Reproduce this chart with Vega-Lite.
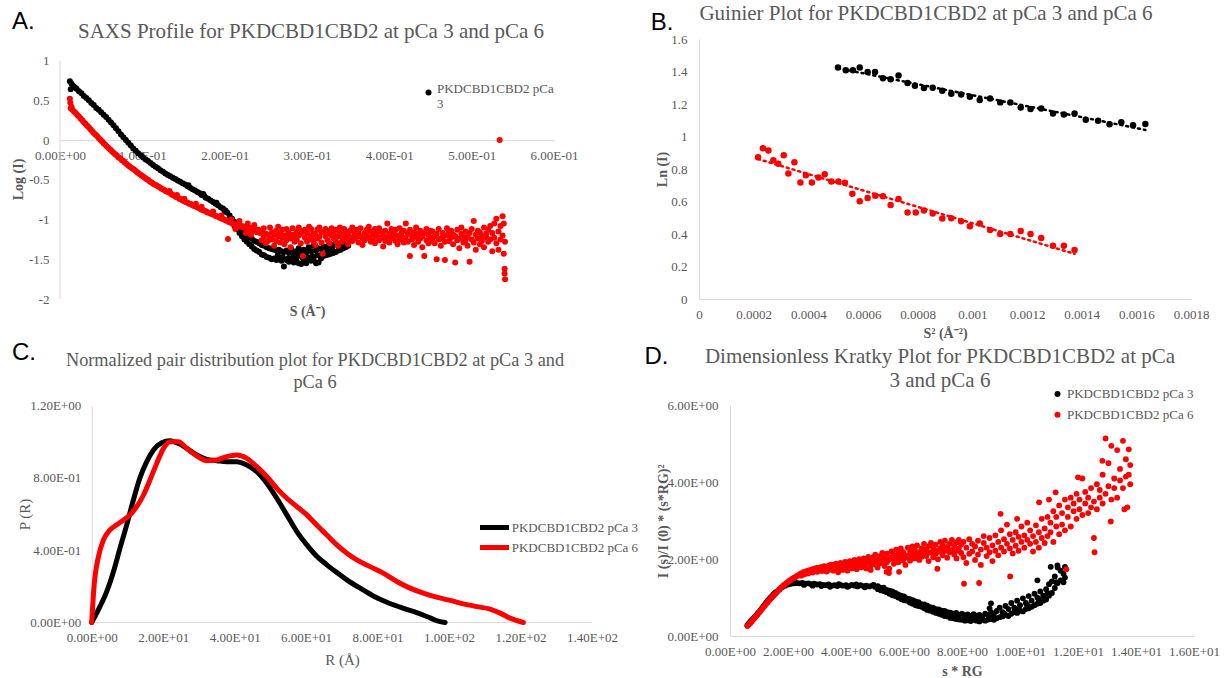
{
"$schema":"https://vega.github.io/schema/vega-lite/v6.json",
"autosize":"none",
"padding":{"left":60,"top":39,"right":1164,"bottom":639},
"background":"white",
"config":{
 "view":{"stroke":null},
 "font":"Liberation Serif",
 "axis":{"domainColor":"#d9d9d9","domainWidth":1,"ticks":false,"tickSize":0,"grid":false,"labelColor":"#595959","labelFont":"Liberation Serif","labelFontSize":13,"labelPadding":9,"titleColor":"#595959","titleFont":"Liberation Serif","titleFontSize":14,"titleFontWeight":"bold","labelFlush":false,"labelOverlap":false},
 "title":{"font":"Liberation Serif","fontSize":21,"fontWeight":"normal","color":"#595959"},
 "legend":{"labelFont":"Liberation Serif","labelFontSize":13,"labelColor":"#595959","padding":0,"rowPadding":7}
},
"datasets":{
"a3":[{"x":0.012,"y":0.74},{"x":0.013,"y":0.64},{"x":0.014,"y":0.71},{"x":0.016,"y":0.68},{"x":0.018,"y":0.665},{"x":0.02,"y":0.645},{"x":0.023,"y":0.615},{"x":0.026,"y":0.59},{"x":0.029,"y":0.555},{"x":0.032,"y":0.53},{"x":0.035,"y":0.5},{"x":0.038,"y":0.465},{"x":0.041,"y":0.44},{"x":0.044,"y":0.405},{"x":0.047,"y":0.38},{"x":0.05,"y":0.35},{"x":0.053,"y":0.32},{"x":0.056,"y":0.29},{"x":0.059,"y":0.255},{"x":0.062,"y":0.22},{"x":0.065,"y":0.185},{"x":0.068,"y":0.15},{"x":0.071,"y":0.11},{"x":0.074,"y":0.07},{"x":0.077,"y":0.035},{"x":0.08,"y":0},{"x":0.083,"y":-0.035},{"x":0.086,"y":-0.07},{"x":0.089,"y":-0.105},{"x":0.092,"y":-0.135},{"x":0.095,"y":-0.165},{"x":0.098,"y":-0.19},{"x":0.101,"y":-0.22},{"x":0.104,"y":-0.245},{"x":0.107,"y":-0.265},{"x":0.11,"y":-0.29},{"x":0.113,"y":-0.315},{"x":0.116,"y":-0.335},{"x":0.119,"y":-0.355},{"x":0.122,"y":-0.38},{"x":0.125,"y":-0.4},{"x":0.128,"y":-0.42},{"x":0.131,"y":-0.44},{"x":0.134,"y":-0.455},{"x":0.137,"y":-0.475},{"x":0.14,"y":-0.49},{"x":0.143,"y":-0.51},{"x":0.146,"y":-0.525},{"x":0.149,"y":-0.545},{"x":0.152,"y":-0.56},{"x":0.155,"y":-0.58},{"x":0.156,"y":-0.57},{"x":0.158,"y":-0.6},{"x":0.161,"y":-0.62},{"x":0.164,"y":-0.635},{"x":0.167,"y":-0.655},{"x":0.17,"y":-0.67},{"x":0.172,"y":-0.69},{"x":0.174,"y":-0.68},{"x":0.175,"y":-0.7},{"x":0.177,"y":-0.725},{"x":0.18,"y":-0.74},{"x":0.183,"y":-0.76},{"x":0.186,"y":-0.78},{"x":0.189,"y":-0.8},{"x":0.19,"y":-0.79},{"x":0.192,"y":-0.82},{"x":0.195,"y":-0.845},{"x":0.198,"y":-0.86},{"x":0.2,"y":-0.9},{"x":0.201,"y":-0.885},{"x":0.203,"y":-0.91},
{"x":0.206,"y":-0.95},{"x":0.206,"y":-1.0},{"x":0.209,"y":-0.99},{"x":0.209,"y":-1.04},{"x":0.212,"y":-1.03},{"x":0.212,"y":-1.08},{"x":0.215,"y":-1.06},{"x":0.215,"y":-1.12},{"x":0.218,"y":-1.1},{"x":0.218,"y":-1.17},{"x":0.221,"y":-1.13},{"x":0.221,"y":-1.21},{"x":0.224,"y":-1.16},{"x":0.224,"y":-1.25},{"x":0.227,"y":-1.19},{"x":0.227,"y":-1.28},{"x":0.23,"y":-1.22},{"x":0.23,"y":-1.31},{"x":0.233,"y":-1.24},{"x":0.233,"y":-1.34},{"x":0.236,"y":-1.27},{"x":0.236,"y":-1.37},{"x":0.239,"y":-1.28},{"x":0.239,"y":-1.39},{"x":0.242,"y":-1.3},{"x":0.242,"y":-1.41},{"x":0.245,"y":-1.32},{"x":0.245,"y":-1.44},{"x":0.248,"y":-1.33},{"x":0.248,"y":-1.45},{"x":0.251,"y":-1.35},{"x":0.251,"y":-1.47},{"x":0.254,"y":-1.36},{"x":0.254,"y":-1.48},{"x":0.257,"y":-1.37},{"x":0.257,"y":-1.5},{"x":0.26,"y":-1.38},{"x":0.26,"y":-1.49},{"x":0.263,"y":-1.39},{"x":0.263,"y":-1.51},{"x":0.266,"y":-1.38},{"x":0.266,"y":-1.5},{"x":0.269,"y":-1.4},{"x":0.269,"y":-1.52},{"x":0.272,"y":-1.41},{"x":0.272,"y":-1.59},{"x":0.275,"y":-1.39},{"x":0.275,"y":-1.51},{"x":0.278,"y":-1.42},{"x":0.278,"y":-1.53},{"x":0.281,"y":-1.37},{"x":0.281,"y":-1.52},{"x":0.284,"y":-1.43},{"x":0.284,"y":-1.54},{"x":0.287,"y":-1.4},{"x":0.287,"y":-1.52},{"x":0.29,"y":-1.36},{"x":0.29,"y":-1.55},{"x":0.293,"y":-1.42},{"x":0.293,"y":-1.56},{"x":0.296,"y":-1.38},{"x":0.296,"y":-1.53},{"x":0.299,"y":-1.41},{"x":0.299,"y":-1.55},{"x":0.302,"y":-1.35},{"x":0.302,"y":-1.5},{"x":0.305,"y":-1.4},{"x":0.305,"y":-1.52},{"x":0.308,"y":-1.33},{"x":0.308,"y":-1.5},{"x":0.311,"y":-1.39},{"x":0.311,"y":-1.55},{"x":0.314,"y":-1.36},{"x":0.314,"y":-1.54},{"x":0.317,"y":-1.37},{"x":0.317,"y":-1.49},{"x":0.32,"y":-1.34},{"x":0.32,"y":-1.46},{"x":0.323,"y":-1.35},{"x":0.323,"y":-1.45},{"x":0.326,"y":-1.33},{"x":0.326,"y":-1.44},{"x":0.329,"y":-1.33},{"x":0.329,"y":-1.43},{"x":0.332,"y":-1.32},{"x":0.332,"y":-1.42},{"x":0.335,"y":-1.31},{"x":0.335,"y":-1.41},{"x":0.338,"y":-1.31},{"x":0.338,"y":-1.39},{"x":0.341,"y":-1.3},{"x":0.341,"y":-1.38},{"x":0.344,"y":-1.3},{"x":0.344,"y":-1.36},{"x":0.347,"y":-1.3},{"x":0.347,"y":-1.35},{"x":0.35,"y":-1.29},{"x":0.35,"y":-1.33},
{"x":0.2645,"y":-1.45},{"x":0.2705,"y":-1.47},{"x":0.2765,"y":-1.49},{"x":0.2825,"y":-1.48},{"x":0.2885,"y":-1.46},{"x":0.2945,"y":-1.48},{"x":0.3005,"y":-1.47},{"x":0.3065,"y":-1.46},{"x":0.3125,"y":-1.45},{"x":0.3185,"y":-1.43},{"x":0.3245,"y":-1.4},{"x":0.3305,"y":-1.37}],
"a6":[{"x":0.012,"y":0.52},{"x":0.0125,"y":0.47},{"x":0.013,"y":0.4},{"x":0.014,"y":0.42},{"x":0.015,"y":0.38},{"x":0.017,"y":0.36},{"x":0.019,"y":0.34},{"x":0.021,"y":0.315},{"x":0.023,"y":0.295},{"x":0.025,"y":0.27},{"x":0.027,"y":0.25},{"x":0.029,"y":0.225},{"x":0.031,"y":0.205},{"x":0.033,"y":0.18},{"x":0.035,"y":0.16},{"x":0.037,"y":0.135},{"x":0.039,"y":0.115},{"x":0.041,"y":0.09},{"x":0.043,"y":0.07},{"x":0.045,"y":0.05},{"x":0.047,"y":0.025},{"x":0.049,"y":0.005},{"x":0.051,"y":-0.015},{"x":0.053,"y":-0.04},{"x":0.055,"y":-0.06},{"x":0.057,"y":-0.08},{"x":0.059,"y":-0.1},{"x":0.061,"y":-0.12},{"x":0.063,"y":-0.14},{"x":0.065,"y":-0.16},{"x":0.067,"y":-0.18},{"x":0.069,"y":-0.195},{"x":0.071,"y":-0.215},{"x":0.073,"y":-0.23},{"x":0.075,"y":-0.25},{"x":0.077,"y":-0.265},{"x":0.079,"y":-0.285},{"x":0.081,"y":-0.3},{"x":0.083,"y":-0.32},{"x":0.085,"y":-0.335},{"x":0.087,"y":-0.35},{"x":0.089,"y":-0.365},{"x":0.091,"y":-0.38},{"x":0.093,"y":-0.4},{"x":0.095,"y":-0.415},{"x":0.097,"y":-0.43},{"x":0.099,"y":-0.445},{"x":0.101,"y":-0.46},{"x":0.103,"y":-0.475},{"x":0.105,"y":-0.49},{"x":0.107,"y":-0.5},{"x":0.109,"y":-0.52},{"x":0.111,"y":-0.53},{"x":0.113,"y":-0.55},{"x":0.115,"y":-0.56},{"x":0.117,"y":-0.57},{"x":0.119,"y":-0.585},{"x":0.121,"y":-0.595},{"x":0.123,"y":-0.61},{"x":0.125,"y":-0.62},{"x":0.127,"y":-0.63},{"x":0.129,"y":-0.645},{"x":0.131,"y":-0.655},{"x":0.133,"y":-0.66},{"x":0.135,"y":-0.68},{"x":0.137,"y":-0.69},{"x":0.139,"y":-0.7},{"x":0.141,"y":-0.715},{"x":0.143,"y":-0.72},{"x":0.145,"y":-0.74},{"x":0.147,"y":-0.745},{"x":0.149,"y":-0.76},{"x":0.151,"y":-0.77},{"x":0.153,"y":-0.78},{"x":0.155,"y":-0.79},{"x":0.157,"y":-0.8},{"x":0.159,"y":-0.805},{"x":0.161,"y":-0.82},{"x":0.163,"y":-0.83},{"x":0.165,"y":-0.835},{"x":0.167,"y":-0.85},{"x":0.169,"y":-0.855},{"x":0.171,"y":-0.87},{"x":0.173,"y":-0.88},{"x":0.175,"y":-0.885},{"x":0.177,"y":-0.895},{"x":0.179,"y":-0.91},{"x":0.181,"y":-0.915},{"x":0.183,"y":-0.925},{"x":0.185,"y":-0.935},{"x":0.187,"y":-0.94},{"x":0.189,"y":-0.955},{"x":0.191,"y":-0.96},{"x":0.193,"y":-0.97},{"x":0.195,"y":-0.98},{"x":0.197,"y":-0.99},{"x":0.199,"y":-0.995},{"x":0.201,"y":-1.01},{"x":0.203,"y":-1.02},{"x":0.204,"y":-1.245},{"x":0.205,"y":-1.03},{"x":0.207,"y":-1.035},{"x":0.209,"y":-1.05},{"x":0.211,"y":-1.055},{"x":0.213,"y":-1.06},{"x":0.215,"y":-1.07},{"x":0.217,"y":-1.075},{"x":0.219,"y":-1.09},{"x":0.221,"y":-1.08},{"x":0.223,"y":-1.1},{"x":0.225,"y":-1.09},{"x":0.227,"y":-1.12},{"x":0.229,"y":-1.11},{"x":0.231,"y":-1.13},{"x":0.233,"y":-1.1},{"x":0.235,"y":-1.14},{"x":0.237,"y":-1.12},{"x":0.239,"y":-1.16},{"x":0.241,"y":-1.13},{"x":0.243,"y":-1.17},
{"x":0.133,"y":-0.64},{"x":0.142,"y":-0.69},{"x":0.151,"y":-0.74},{"x":0.165,"y":-0.8},{"x":0.172,"y":-0.84},{"x":0.186,"y":-0.9},{"x":0.196,"y":-0.95},{"x":0.208,"y":-1.0},{"x":0.218,"y":-1.02},{"x":0.228,"y":-1.05},{"x":0.236,"y":-1.07},{"x":0.213,"y":-1.12},{"x":0.226,"y":-1.17},{"x":0.232,"y":-1.19},
{"x":0.245,"y":-1.15},{"x":0.245,"y":-1.26},{"x":0.2475,"y":-1.22},{"x":0.2475,"y":-1.11},{"x":0.25,"y":-1.18},{"x":0.25,"y":-1.3},{"x":0.2525,"y":-1.27},{"x":0.2525,"y":-1.19},{"x":0.255,"y":-1.1},{"x":0.255,"y":-1.24},{"x":0.2575,"y":-1.25},{"x":0.2575,"y":-1.16},{"x":0.26,"y":-1.19},{"x":0.26,"y":-1.33},{"x":0.2625,"y":-1.14},{"x":0.2625,"y":-1.27},{"x":0.265,"y":-1.21},{"x":0.265,"y":-1.09},{"x":0.2675,"y":-1.29},{"x":0.2675,"y":-1.17},{"x":0.27,"y":-1.13},{"x":0.27,"y":-1.23},{"x":0.2725,"y":-1.2},{"x":0.2725,"y":-1.31},{"x":0.275,"y":-1.26},{"x":0.275,"y":-1.12},{"x":0.2775,"y":-1.16},{"x":0.2775,"y":-1.22},{"x":0.28,"y":-1.24},{"x":0.28,"y":-1.35},{"x":0.2825,"y":-1.11},{"x":0.2825,"y":-1.19},{"x":0.285,"y":-1.28},{"x":0.285,"y":-1.21},{"x":0.2875,"y":-1.15},{"x":0.2875,"y":-1.25},{"x":0.29,"y":-1.2},{"x":0.29,"y":-1.1},{"x":0.2925,"y":-1.3},{"x":0.2925,"y":-1.18},{"x":0.295,"y":-1.14},{"x":0.295,"y":-1.46},{"x":0.2975,"y":-1.23},{"x":0.2975,"y":-1.13},{"x":0.3,"y":-1.17},{"x":0.3,"y":-1.28},{"x":0.3025,"y":-1.25},{"x":0.3025,"y":-1.09},{"x":0.305,"y":-1.12},{"x":0.305,"y":-1.21},{"x":0.3075,"y":-1.27},{"x":0.3075,"y":-1.18},{"x":0.31,"y":-1.19},{"x":0.31,"y":-1.32},{"x":0.3125,"y":-1.13},{"x":0.3125,"y":-1.24},{"x":0.315,"y":-1.22},{"x":0.315,"y":-1.1},{"x":0.3175,"y":-1.29},{"x":0.3175,"y":-1.16},{"x":0.32,"y":-1.15},{"x":0.319,"y":-1.43},{"x":0.3225,"y":-1.21},{"x":0.3225,"y":-1.12},{"x":0.325,"y":-1.26},{"x":0.325,"y":-1.18},{"x":0.3275,"y":-1.14},{"x":0.3275,"y":-1.3},{"x":0.33,"y":-1.2},{"x":0.33,"y":-1.11},{"x":0.3325,"y":-1.24},{"x":0.3325,"y":-1.17},{"x":0.335,"y":-1.13},{"x":0.335,"y":-1.27},{"x":0.3375,"y":-1.21},{"x":0.3375,"y":-1.33},{"x":0.34,"y":-1.17},{"x":0.34,"y":-1.1},{"x":0.3425,"y":-1.28},{"x":0.3425,"y":-1.22},{"x":0.345,"y":-1.12},{"x":0.345,"y":-1.19},{"x":0.3475,"y":-1.25},{"x":0.3475,"y":-1.15},{"x":0.35,"y":-1.2},{"x":0.35,"y":-1.31},{"x":0.3525,"y":-1.14},{"x":0.3525,"y":-1.23},{"x":0.355,"y":-1.27},{"x":0.355,"y":-1.1},{"x":0.3575,"y":-1.18},{"x":0.3575,"y":-1.24},{"x":0.36,"y":-1.22},{"x":0.36,"y":-1.13},{"x":0.3625,"y":-1.29},{"x":0.3625,"y":-1.16},{"x":0.365,"y":-1.11},{"x":0.365,"y":-1.21},{"x":0.3675,"y":-1.24},{"x":0.3675,"y":-1.32},{"x":0.37,"y":-1.17},{"x":0.37,"y":-1.26},{"x":0.3725,"y":-1.13},{"x":0.3725,"y":-1.2},{"x":0.375,"y":-1.23},{"x":0.375,"y":-1.09},{"x":0.3775,"y":-1.28},{"x":0.3775,"y":-1.15},{"x":0.38,"y":-1.19},{"x":0.38,"y":-1.25},{"x":0.3825,"y":-1.12},{"x":0.3825,"y":-1.3},{"x":0.385,"y":-1.21},{"x":0.385,"y":-1.16},{"x":0.3875,"y":-1.26},{"x":0.3875,"y":-1.11},{"x":0.39,"y":-1.15},{"x":0.39,"y":-1.23},{"x":0.3925,"y":-1.2},{"x":0.3925,"y":-1.34},{"x":0.395,"y":-1.14},{"x":0.395,"y":-1.27},{"x":0.3975,"y":-1.05},{"x":0.3975,"y":-1.22},{"x":0.4,"y":-1.18},{"x":0.4,"y":-1.29},{"x":0.4025,"y":-1.24},{"x":0.4025,"y":-1.12},{"x":0.405,"y":-1.16},{"x":0.405,"y":-1.21},{"x":0.4075,"y":-1.27},{"x":0.4075,"y":-1.13},{"x":0.41,"y":-1.2},{"x":0.41,"y":-1.31},{"x":0.4125,"y":-1.11},{"x":0.4125,"y":-1.25},{"x":0.415,"y":-1.22},{"x":0.415,"y":-1.17},{"x":0.4175,"y":-1.29},{"x":0.4175,"y":-1.14},{"x":0.42,"y":-1.05},{"x":0.42,"y":-1.23},{"x":0.4225,"y":-1.18},{"x":0.4225,"y":-1.28},{"x":0.425,"y":-1.13},{"x":0.425,"y":-1.46},{"x":0.4275,"y":-1.25},{"x":0.4275,"y":-1.2},{"x":0.43,"y":-1.16},{"x":0.43,"y":-1.32},{"x":0.4325,"y":-1.22},{"x":0.4325,"y":-1.1},{"x":0.435,"y":-1.28},{"x":0.435,"y":-1.18},{"x":0.4375,"y":-1.14},{"x":0.4375,"y":-1.24},{"x":0.44,"y":-1.21},{"x":0.44,"y":-1.35},{"x":0.4425,"y":-1.46},{"x":0.4425,"y":-1.17},{"x":0.445,"y":-1.26},{"x":0.445,"y":-1.12},{"x":0.4475,"y":-1.19},{"x":0.4475,"y":-1.3},{"x":0.45,"y":-1.23},{"x":0.45,"y":-1.14},{"x":0.4525,"y":-1.15},{"x":0.4525,"y":-1.27},{"x":0.455,"y":-1.3},{"x":0.455,"y":-1.21},{"x":0.4575,"y":-1.5},{"x":0.4575,"y":-1.18},{"x":0.46,"y":-1.12},{"x":0.46,"y":-1.25},{"x":0.4625,"y":-1.24},{"x":0.4625,"y":-1.33},{"x":0.465,"y":-1.17},{"x":0.465,"y":-1.22},{"x":0.4675,"y":-1.51},{"x":0.4675,"y":-1.28},{"x":0.47,"y":-1.2},{"x":0.47,"y":-1.11},{"x":0.4725,"y":-1.27},{"x":0.4725,"y":-1.16},{"x":0.475,"y":-1.14},{"x":0.475,"y":-1.23},{"x":0.4775,"y":-1.31},{"x":0.4775,"y":-1.19},{"x":0.48,"y":-1.21},{"x":0.48,"y":-1.54},{"x":0.4825,"y":-1.13},{"x":0.4825,"y":-1.26},{"x":0.485,"y":-1.24},{"x":0.485,"y":-1.36},{"x":0.4875,"y":-1.18},{"x":0.4875,"y":-1.1},{"x":0.49,"y":-1.29},{"x":0.49,"y":-1.22},{"x":0.4925,"y":-1.15},{"x":0.4925,"y":-1.27},{"x":0.495,"y":-1.22},{"x":0.495,"y":-1.33},{"x":0.4975,"y":-1.53},{"x":0.4975,"y":-1.17},{"x":0.5,"y":-1.12},{"x":0.5,"y":-1.25},{"x":0.5025,"y":-1.02},{"x":0.5025,"y":-1.29},{"x":0.505,"y":-1.19},{"x":0.505,"y":-1.38},{"x":0.5075,"y":-1.24},{"x":0.5075,"y":-1.14},{"x":0.51,"y":-1.16},{"x":0.51,"y":-1.31},{"x":0.5125,"y":-1.27},{"x":0.5125,"y":-1.21},{"x":0.515,"y":-1.1},{"x":0.515,"y":-1.35},{"x":0.5175,"y":-1.22},{"x":0.5175,"y":-1.18},{"x":0.52,"y":-1.13},{"x":0.52,"y":-1.28},{"x":0.5225,"y":-1.25},{"x":0.5225,"y":-1.08},{"x":0.525,"y":-1.17},{"x":0.525,"y":-1.4},{"x":0.5275,"y":-1.05},{"x":0.5275,"y":-1.23},{"x":0.53,"y":-0.99},{"x":0.53,"y":-1.3},{"x":0.5325,"y":-1.15},{"x":0.5325,"y":-1.38},{"x":0.535,"y":-1.08},{"x":0.535,"y":-1.25},{"x":0.5375,"y":-0.96},{"x":0.5375,"y":-1.2},{"x":0.539,"y":-1.05},{"x":0.539,"y":-1.43},{"x":0.54,"y":-1.62},{"x":0.54,"y":-1.68},{"x":0.5405,"y":-1.75},{"x":0.5405,"y":-1.28},{"x":0.534,"y":0}],
"b3":[{"x":0.0005085,"y":1.425},{"x":0.000537,"y":1.407},{"x":0.000563,"y":1.407},{"x":0.000588,"y":1.425},{"x":0.000617,"y":1.397},{"x":0.000644,"y":1.397},{"x":0.000673,"y":1.358},{"x":0.000701,"y":1.353},{"x":0.00073,"y":1.376},{"x":0.000763,"y":1.329},{"x":0.00079,"y":1.312},{"x":0.000823,"y":1.298},{"x":0.000855,"y":1.3},{"x":0.00089,"y":1.282},{"x":0.000923,"y":1.263},{"x":0.000959,"y":1.259},{"x":0.000991,"y":1.245},{"x":0.001027,"y":1.224},{"x":0.001065,"y":1.234},{"x":0.001102,"y":1.21},{"x":0.001139,"y":1.21},{"x":0.001177,"y":1.179},{"x":0.001213,"y":1.169},{"x":0.001252,"y":1.173},{"x":0.001295,"y":1.142},{"x":0.001335,"y":1.136},{"x":0.001374,"y":1.142},{"x":0.001415,"y":1.103},{"x":0.00146,"y":1.097},{"x":0.001502,"y":1.076},{"x":0.001545,"y":1.087},{"x":0.001588,"y":1.07},{"x":0.001633,"y":1.077}],
"b6":[{"x":0.000216,"y":0.873},{"x":0.000234,"y":0.928},{"x":0.000254,"y":0.914},{"x":0.000272,"y":0.854},{"x":0.00029,"y":0.832},{"x":0.00031,"y":0.885},{"x":0.000327,"y":0.772},{"x":0.000349,"y":0.842},{"x":0.000371,"y":0.717},{"x":0.000391,"y":0.762},{"x":0.000413,"y":0.717},{"x":0.000437,"y":0.748},{"x":0.00046,"y":0.768},{"x":0.000484,"y":0.723},{"x":0.00051,"y":0.723},{"x":0.000534,"y":0.715},{"x":0.000561,"y":0.647},{"x":0.000588,"y":0.602},{"x":0.000617,"y":0.622},{"x":0.000645,"y":0.635},{"x":0.000673,"y":0.633},{"x":0.000701,"y":0.579},{"x":0.00073,"y":0.616},{"x":0.000763,"y":0.532},{"x":0.000793,"y":0.532},{"x":0.000823,"y":0.544},{"x":0.000855,"y":0.526},{"x":0.00089,"y":0.495},{"x":0.000923,"y":0.497},{"x":0.000959,"y":0.479},{"x":0.000991,"y":0.448},{"x":0.001027,"y":0.464},{"x":0.001065,"y":0.425},{"x":0.001102,"y":0.4},{"x":0.001139,"y":0.4},{"x":0.001177,"y":0.419},{"x":0.001213,"y":0.4},{"x":0.001252,"y":0.376},{"x":0.001295,"y":0.327},{"x":0.001335,"y":0.327},{"x":0.001374,"y":0.302}],
"c3":[{"x":0,"y":0},{"x":2.3,"y":0.088},{"x":4.2,"y":0.171},{"x":6.1,"y":0.282},{"x":7.9,"y":0.41},{"x":9.8,"y":0.54},{"x":11.7,"y":0.68},{"x":13.5,"y":0.8},{"x":15.4,"y":0.89},{"x":17.3,"y":0.954},{"x":19.6,"y":0.994},{"x":21.9,"y":1.005},{"x":23.8,"y":0.994},{"x":26.6,"y":0.963},{"x":29.4,"y":0.926},{"x":32.2,"y":0.902},{"x":35,"y":0.895},{"x":37.8,"y":0.889},{"x":40.6,"y":0.889},{"x":43.4,"y":0.871},{"x":46.2,"y":0.834},{"x":49,"y":0.77},{"x":51.8,"y":0.687},{"x":54.6,"y":0.595},{"x":57.4,"y":0.503},{"x":60.2,"y":0.429},{"x":62.9,"y":0.368},{"x":65.8,"y":0.319},{"x":68.6,"y":0.276},{"x":71.4,"y":0.236},{"x":75.1,"y":0.19},{"x":78.8,"y":0.147},{"x":82.6,"y":0.112},{"x":86.3,"y":0.085},{"x":90,"y":0.061},{"x":93.8,"y":0.033},{"x":96.5,"y":0.011},{"x":98.9,"y":0}],
"c6":[{"x":0,"y":0},{"x":0.65,"y":0.199},{"x":1.9,"y":0.365},{"x":3.3,"y":0.457},{"x":5.1,"y":0.512},{"x":7,"y":0.54},{"x":8.9,"y":0.567},{"x":10.7,"y":0.595},{"x":12.6,"y":0.641},{"x":14.5,"y":0.705},{"x":16.3,"y":0.788},{"x":18.2,"y":0.88},{"x":20.1,"y":0.963},{"x":21.9,"y":1.0},{"x":24.3,"y":1.0},{"x":26.6,"y":0.963},{"x":29.4,"y":0.921},{"x":32.2,"y":0.895},{"x":35,"y":0.899},{"x":37.8,"y":0.917},{"x":40.6,"y":0.926},{"x":43.4,"y":0.908},{"x":46.2,"y":0.862},{"x":49,"y":0.807},{"x":51.8,"y":0.742},{"x":54.6,"y":0.687},{"x":57.4,"y":0.641},{"x":60.2,"y":0.595},{"x":62.9,"y":0.54},{"x":65.8,"y":0.484},{"x":68.6,"y":0.429},{"x":71.4,"y":0.383},{"x":74.2,"y":0.346},{"x":77.9,"y":0.309},{"x":81.6,"y":0.273},{"x":85.4,"y":0.227},{"x":89.1,"y":0.19},{"x":92.8,"y":0.162},{"x":96.5,"y":0.14},{"x":100.3,"y":0.122},{"x":104,"y":0.103},{"x":107.7,"y":0.088},{"x":111.5,"y":0.074},{"x":114.3,"y":0.052},{"x":117.1,"y":0.024},{"x":120.8,"y":0}],
"d3":[{"x":0.6,"y":0.28},{"x":0.65,"y":0.33},{"x":0.7,"y":0.37},{"x":0.75,"y":0.41},{"x":0.8,"y":0.45},{"x":0.85,"y":0.49},{"x":0.9,"y":0.53},{"x":0.95,"y":0.58},{"x":1,"y":0.62},{"x":1.05,"y":0.67},{"x":1.1,"y":0.72},{"x":1.15,"y":0.77},{"x":1.2,"y":0.82},{"x":1.25,"y":0.87},{"x":1.3,"y":0.92},{"x":1.35,"y":0.96},{"x":1.4,"y":1.0},{"x":1.45,"y":1.04},{"x":1.5,"y":1.08},{"x":1.55,"y":1.12},{"x":1.6,"y":1.15},{"x":1.7,"y":1.21},{"x":1.8,"y":1.27},{"x":1.9,"y":1.31},{"x":2,"y":1.34},{"x":2.1,"y":1.36},{"x":2.2,"y":1.37},{"x":2.3,"y":1.38},{"x":2.4,"y":1.37},{"x":2.5,"y":1.38},{"x":2.6,"y":1.36},{"x":2.7,"y":1.37},{"x":2.8,"y":1.35},{"x":2.9,"y":1.36},{"x":3,"y":1.34},{"x":3.1,"y":1.35},{"x":3.2,"y":1.33},{"x":3.3,"y":1.32},{"x":3.4,"y":1.34},{"x":3.5,"y":1.31},{"x":3.6,"y":1.32},{"x":3.7,"y":1.3},{"x":3.8,"y":1.33},{"x":3.9,"y":1.31},{"x":4,"y":1.32},{"x":4.1,"y":1.3},{"x":4.2,"y":1.33},{"x":4.3,"y":1.31},{"x":4.4,"y":1.29},{"x":4.5,"y":1.32},{"x":4.6,"y":1.3},{"x":4.7,"y":1.31},{"x":4.8,"y":1.29},{"x":4.9,"y":1.31},{"x":5,"y":1.28},{"x":2.55,"y":1.33},{"x":2.85,"y":1.31},{"x":3.15,"y":1.3},{"x":3.45,"y":1.28},{"x":3.75,"y":1.35},{"x":4.05,"y":1.28},{"x":4.35,"y":1.34},{"x":4.65,"y":1.27},{"x":4.95,"y":1.33},
{"x":5.1,"y":1.3},{"x":5.1,"y":1.22},{"x":5.2,"y":1.25},{"x":5.2,"y":1.19},{"x":5.3,"y":1.26},{"x":5.3,"y":1.17},{"x":5.4,"y":1.2},{"x":5.4,"y":1.14},{"x":5.5,"y":1.18},{"x":5.5,"y":1.1},{"x":5.6,"y":1.16},{"x":5.6,"y":1.06},{"x":5.7,"y":1.12},{"x":5.7,"y":1.04},{"x":5.8,"y":1.08},{"x":5.8,"y":1.0},{"x":5.9,"y":1.05},{"x":5.9,"y":0.96},{"x":6,"y":1.03},{"x":6,"y":0.93},{"x":6.1,"y":0.98},{"x":6.1,"y":0.92},{"x":6.2,"y":0.96},{"x":6.2,"y":0.87},{"x":6.3,"y":0.93},{"x":6.3,"y":0.84},{"x":6.4,"y":0.9},{"x":6.4,"y":0.8},{"x":6.5,"y":0.88},{"x":6.5,"y":0.78},{"x":6.6,"y":0.83},{"x":6.6,"y":0.76},{"x":6.7,"y":0.82},{"x":6.7,"y":0.72},{"x":6.8,"y":0.79},{"x":6.8,"y":0.68},{"x":6.9,"y":0.75},{"x":6.9,"y":0.66},{"x":7,"y":0.74},{"x":7,"y":0.63},{"x":7.1,"y":0.7},{"x":7.1,"y":0.6},{"x":7.2,"y":0.69},{"x":7.2,"y":0.58},{"x":7.3,"y":0.66},{"x":7.3,"y":0.55},{"x":7.4,"y":0.65},{"x":7.4,"y":0.52},{"x":7.5,"y":0.62},{"x":7.5,"y":0.51},{"x":7.6,"y":0.61},{"x":7.6,"y":0.47},{"x":7.7,"y":0.58},{"x":7.7,"y":0.46},{"x":7.8,"y":0.6},{"x":7.8,"y":0.44},{"x":7.9,"y":0.55},{"x":7.9,"y":0.43},{"x":8,"y":0.58},{"x":8,"y":0.42},{"x":8.1,"y":0.54},{"x":8.1,"y":0.4},{"x":8.2,"y":0.56},{"x":8.2,"y":0.41},{"x":8.3,"y":0.52},{"x":8.3,"y":0.39},{"x":8.4,"y":0.57},{"x":8.4,"y":0.42},{"x":8.5,"y":0.53},{"x":8.5,"y":0.4},{"x":8.6,"y":0.55},{"x":8.6,"y":0.38},{"x":8.7,"y":0.51},{"x":8.7,"y":0.42},{"x":8.8,"y":0.58},{"x":8.8,"y":0.4},{"x":8.9,"y":0.54},{"x":8.9,"y":0.43},{"x":9,"y":0.62},{"x":9,"y":0.44},{"x":9.1,"y":0.57},{"x":9.1,"y":0.42},{"x":9.2,"y":0.65},{"x":9.2,"y":0.46},{"x":9.3,"y":0.74},{"x":9.3,"y":0.49},{"x":9.4,"y":0.62},{"x":9.4,"y":0.51},{"x":9.5,"y":0.78},{"x":9.5,"y":0.55},{"x":9.6,"y":0.7},{"x":9.6,"y":0.52},{"x":9.7,"y":0.86},{"x":9.7,"y":0.58},{"x":9.8,"y":0.74},{"x":9.8,"y":0.62},{"x":9.9,"y":0.92},{"x":9.9,"y":0.6},{"x":10,"y":0.8},{"x":10,"y":0.66},{"x":10.1,"y":0.98},{"x":10.1,"y":0.64},{"x":10.2,"y":0.86},{"x":10.2,"y":0.7},{"x":10.3,"y":1.04},{"x":10.3,"y":0.72},{"x":10.4,"y":0.92},{"x":10.4,"y":0.76},{"x":10.5,"y":1.1},{"x":10.5,"y":0.8},{"x":10.6,"y":1.0},{"x":10.6,"y":0.84},{"x":10.7,"y":1.16},{"x":10.7,"y":0.86},{"x":10.8,"y":1.05},{"x":10.8,"y":0.92},{"x":10.9,"y":1.22},{"x":10.9,"y":0.95},{"x":11,"y":1.35},{"x":11,"y":1.05},{"x":11.1,"y":1.42},{"x":11.1,"y":1.12},{"x":11.2,"y":1.55},{"x":11.2,"y":1.25},{"x":11.3,"y":1.78},{"x":11.3,"y":1.38},{"x":11.4,"y":1.7},{"x":11.4,"y":1.45},{"x":11.5,"y":1.62},{"x":11.5,"y":1.4},{"x":11.55,"y":1.8},{"x":11.55,"y":1.52},
{"x":5.45,"y":1.16},{"x":5.85,"y":1.03},{"x":6.25,"y":0.91},{"x":6.65,"y":0.79},{"x":7.05,"y":0.68},{"x":7.45,"y":0.58},{"x":7.85,"y":0.51},{"x":8.25,"y":0.47},{"x":8.65,"y":0.46},{"x":9.05,"y":0.5},{"x":9.45,"y":0.58},{"x":9.85,"y":0.7},{"x":10.25,"y":0.8},{"x":10.65,"y":0.95},{"x":10.95,"y":1.12},{"x":11.25,"y":1.4},{"x":8.95,"y":0.72},{"x":9.0,"y":0.85},{"x":10.6,"y":1.45},{"x":11.06,"y":1.8},{"x":11.29,"y":1.84}],
"d6":[{"x":0.6,"y":0.26},{"x":0.65,"y":0.3},{"x":0.7,"y":0.34},{"x":0.75,"y":0.38},{"x":0.8,"y":0.43},{"x":0.85,"y":0.47},{"x":0.9,"y":0.52},{"x":0.95,"y":0.56},{"x":1,"y":0.61},{"x":1.05,"y":0.65},{"x":1.1,"y":0.7},{"x":1.15,"y":0.75},{"x":1.2,"y":0.79},{"x":1.25,"y":0.84},{"x":1.3,"y":0.88},{"x":1.35,"y":0.93},{"x":1.4,"y":0.97},{"x":1.45,"y":1.01},{"x":1.5,"y":1.05},{"x":1.55,"y":1.09},{"x":1.6,"y":1.13},{"x":1.65,"y":1.17},{"x":1.7,"y":1.21},{"x":1.75,"y":1.25},{"x":1.8,"y":1.28},{"x":1.85,"y":1.32},{"x":1.9,"y":1.35},{"x":1.95,"y":1.38},{"x":2,"y":1.41},{"x":2.05,"y":1.44},{"x":2.1,"y":1.46},{"x":2.15,"y":1.49},{"x":2.2,"y":1.51},{"x":2.25,"y":1.53},{"x":2.3,"y":1.56},{"x":2.35,"y":1.58},{"x":2.4,"y":1.6},
{"x":2.45,"y":1.63},{"x":2.45,"y":1.57},{"x":2.53,"y":1.66},{"x":2.53,"y":1.6},{"x":2.61,"y":1.62},{"x":2.61,"y":1.68},{"x":2.69,"y":1.7},{"x":2.69,"y":1.63},{"x":2.77,"y":1.66},{"x":2.77,"y":1.72},{"x":2.85,"y":1.74},{"x":2.85,"y":1.65},{"x":2.93,"y":1.69},{"x":2.93,"y":1.76},{"x":3.01,"y":1.77},{"x":3.01,"y":1.67},{"x":3.09,"y":1.71},{"x":3.09,"y":1.78},{"x":3.17,"y":1.8},{"x":3.17,"y":1.69},{"x":3.25,"y":1.73},{"x":3.25,"y":1.82},{"x":3.33,"y":1.68},{"x":3.33,"y":1.79},{"x":3.41,"y":1.84},{"x":3.41,"y":1.72},{"x":3.49,"y":1.75},{"x":3.49,"y":1.86},{"x":3.57,"y":1.7},{"x":3.57,"y":1.82},{"x":3.65,"y":1.88},{"x":3.65,"y":1.74},{"x":3.73,"y":1.77},{"x":3.73,"y":1.66},{"x":3.81,"y":1.9},{"x":3.81,"y":1.79},{"x":3.89,"y":1.72},{"x":3.89,"y":1.84},{"x":3.97,"y":1.93},{"x":3.97,"y":1.78},{"x":4.05,"y":1.81},{"x":4.05,"y":1.7},{"x":4.13,"y":1.95},{"x":4.13,"y":1.86},{"x":4.21,"y":1.76},{"x":4.21,"y":1.89},{"x":4.29,"y":1.98},{"x":4.29,"y":1.82},{"x":4.37,"y":1.74},{"x":4.37,"y":1.91},{"x":4.45,"y":1.87},{"x":4.45,"y":2.0},{"x":4.53,"y":1.79},{"x":4.53,"y":1.94},{"x":4.61,"y":2.02},{"x":4.61,"y":1.85},{"x":4.69,"y":1.76},{"x":4.69,"y":1.9},{"x":4.77,"y":1.97},{"x":4.77,"y":2.06},{"x":4.85,"y":1.83},{"x":4.85,"y":1.72},{"x":4.93,"y":2.05},{"x":4.93,"y":1.92},{"x":5.01,"y":1.86},{"x":5.01,"y":2.12},{"x":5.09,"y":1.78},{"x":5.09,"y":1.98},{"x":5.17,"y":2.08},{"x":5.17,"y":1.89},{"x":5.25,"y":1.95},{"x":5.25,"y":2.16},{"x":5.33,"y":1.82},{"x":5.33,"y":2.03},{"x":5.41,"y":2.14},{"x":5.41,"y":1.92},{"x":5.49,"y":1.99},{"x":5.49,"y":1.75},{"x":5.57,"y":2.2},{"x":5.57,"y":2.05},{"x":5.65,"y":1.88},{"x":5.65,"y":2.11},{"x":5.73,"y":2.02},{"x":5.73,"y":2.25},{"x":5.81,"y":1.92},{"x":5.81,"y":2.15},{"x":5.89,"y":2.28},{"x":5.89,"y":2.03},{"x":5.97,"y":1.97},{"x":5.97,"y":2.18},{"x":6.05,"y":2.1},{"x":6.05,"y":1.85},{"x":6.13,"y":2.3},{"x":6.13,"y":2.04},{"x":6.21,"y":1.96},{"x":6.21,"y":2.2},{"x":6.29,"y":2.14},{"x":6.29,"y":2.33},{"x":6.37,"y":2.02},{"x":6.37,"y":2.24},{"x":6.45,"y":2.36},{"x":6.45,"y":2.1},{"x":6.53,"y":1.98},{"x":6.53,"y":2.19},{"x":6.61,"y":2.28},{"x":6.61,"y":2.06},{"x":6.69,"y":2.4},{"x":6.69,"y":2.15},{"x":6.77,"y":2.08},{"x":6.77,"y":2.26},{"x":6.85,"y":2.34},{"x":6.85,"y":1.95},{"x":6.93,"y":2.18},{"x":6.93,"y":2.42},{"x":7.01,"y":2.05},{"x":7.01,"y":2.3},{"x":7.09,"y":2.38},{"x":7.09,"y":2.14},{"x":7.17,"y":2.22},{"x":7.17,"y":2.0},{"x":7.25,"y":2.45},{"x":7.25,"y":2.28},{"x":7.33,"y":2.1},{"x":7.33,"y":2.35},{"x":7.41,"y":2.26},{"x":7.41,"y":2.48},{"x":7.49,"y":2.04},{"x":7.49,"y":2.32},{"x":7.57,"y":2.4},{"x":7.57,"y":2.18},{"x":7.65,"y":2.5},{"x":7.65,"y":2.24},{"x":7.73,"y":2.12},{"x":7.73,"y":2.36},{"x":7.81,"y":2.44},{"x":7.81,"y":2.02},{"x":7.89,"y":2.28},{"x":7.89,"y":2.5},{"x":7.97,"y":2.16},{"x":7.97,"y":2.38},
{"x":3.05,"y":1.73},{"x":3.21,"y":1.75},{"x":3.37,"y":1.77},{"x":3.53,"y":1.78},{"x":3.69,"y":1.8},{"x":3.85,"y":1.82},{"x":4.01,"y":1.83},{"x":4.17,"y":1.84},{"x":4.33,"y":1.86},{"x":4.49,"y":1.88},{"x":4.65,"y":1.89},{"x":4.81,"y":1.91},{"x":4.97,"y":1.93},{"x":5.13,"y":1.95},{"x":5.29,"y":1.97},{"x":5.45,"y":2.0},{"x":5.61,"y":2.02},{"x":5.77,"y":2.04},{"x":5.93,"y":2.06},{"x":6.09,"y":2.08},{"x":6.25,"y":2.1},{"x":6.41,"y":2.12},{"x":6.57,"y":2.14},{"x":6.73,"y":2.16},{"x":6.89,"y":2.17},{"x":7.05,"y":2.18},{"x":7.21,"y":2.19},{"x":7.37,"y":2.2},{"x":7.53,"y":2.21},{"x":7.69,"y":2.22},{"x":7.85,"y":2.22},{"x":5.48,"y":1.64},{"x":5.83,"y":1.67},{"x":7.15,"y":1.75},{"x":5.4,"y":1.67},
{"x":8.05,"y":2.45},{"x":8.05,"y":2.05},{"x":8.15,"y":2.3},{"x":8.15,"y":1.9},{"x":8.25,"y":2.52},{"x":8.25,"y":2.14},{"x":8.35,"y":2.2},{"x":8.35,"y":2.4},{"x":8.45,"y":1.98},{"x":8.45,"y":2.33},{"x":8.55,"y":2.48},{"x":8.55,"y":2.12},{"x":8.65,"y":2.25},{"x":8.65,"y":1.85},{"x":8.75,"y":2.42},{"x":8.75,"y":2.6},{"x":8.85,"y":2.08},{"x":8.85,"y":2.3},{"x":8.95,"y":2.55},{"x":8.95,"y":2.18},{"x":9.05,"y":2.36},{"x":9.05,"y":1.95},{"x":9.15,"y":2.62},{"x":9.15,"y":2.22},{"x":9.25,"y":2.1},{"x":9.25,"y":2.45},{"x":9.35,"y":2.75},{"x":9.35,"y":2.3},{"x":9.45,"y":2.2},{"x":9.45,"y":2.52},{"x":9.55,"y":2.9},{"x":9.55,"y":2.4},{"x":9.65,"y":2.28},{"x":9.65,"y":2.65},{"x":9.75,"y":2.5},{"x":9.75,"y":2.15},{"x":9.85,"y":2.7},{"x":9.85,"y":2.35},{"x":9.95,"y":2.22},{"x":9.95,"y":2.58},{"x":10.05,"y":2.85},{"x":10.05,"y":2.45},{"x":10.15,"y":2.3},{"x":10.15,"y":2.62},{"x":10.25,"y":2.95},{"x":10.25,"y":2.5},{"x":10.35,"y":2.4},{"x":10.35,"y":2.75},{"x":10.45,"y":2.6},{"x":10.45,"y":2.2},{"x":10.55,"y":2.88},{"x":10.55,"y":2.45},{"x":10.65,"y":2.3},{"x":10.65,"y":2.7},{"x":10.75,"y":3.05},{"x":10.75,"y":2.55},{"x":10.85,"y":2.42},{"x":10.85,"y":2.8},{"x":10.95,"y":3.1},{"x":10.95,"y":2.6},{"x":11.05,"y":2.7},{"x":11.05,"y":2.95},{"x":11.15,"y":3.25},{"x":11.15,"y":2.45},{"x":11.25,"y":2.85},{"x":11.25,"y":3.1},{"x":11.35,"y":3.4},{"x":11.35,"y":2.65},{"x":11.45,"y":2.9},{"x":11.45,"y":3.2},{"x":11.55,"y":3.55},{"x":11.55,"y":2.75},{"x":11.65,"y":3.1},{"x":11.65,"y":3.35},{"x":11.75,"y":2.85},{"x":11.75,"y":3.6},{"x":11.85,"y":3.25},{"x":11.85,"y":3.45},{"x":11.95,"y":3.7},{"x":11.95,"y":3.05},{"x":12.05,"y":3.3},{"x":12.05,"y":3.55},{"x":12.15,"y":4.1},{"x":12.15,"y":3.15},{"x":12.25,"y":3.45},{"x":12.25,"y":3.75},{"x":12.35,"y":3.2},{"x":12.35,"y":3.6},{"x":12.45,"y":3.85},{"x":12.45,"y":3.35},{"x":12.55,"y":3.5},{"x":12.55,"y":2.55},{"x":12.65,"y":3.95},{"x":12.65,"y":3.3},{"x":12.75,"y":3.6},{"x":12.75,"y":3.8},{"x":12.85,"y":4.2},{"x":12.85,"y":3.45},{"x":12.95,"y":5.14},{"x":12.95,"y":3.7},{"x":13.05,"y":3.9},{"x":13.05,"y":4.5},{"x":13.15,"y":4.95},{"x":13.15,"y":3.55},{"x":13.25,"y":4.1},{"x":13.25,"y":3.85},{"x":13.35,"y":4.84},{"x":13.35,"y":3.6},{"x":13.45,"y":4.35},{"x":13.45,"y":4.05},{"x":13.55,"y":5.08},{"x":13.55,"y":3.85},{"x":13.65,"y":4.6},{"x":13.65,"y":4.15},{"x":13.75,"y":4.86},{"x":13.75,"y":4.2},{"x":13.8,"y":4.45},{"x":13.8,"y":3.95},
{"x":8.07,"y":1.36},{"x":8.59,"y":1.38},{"x":9.66,"y":1.55},{"x":11.6,"y":1.74},{"x":12.57,"y":2.18},{"x":13.13,"y":2.98},{"x":12.84,"y":4.56},{"x":12.0,"y":4.13},{"x":13.7,"y":3.35},{"x":13.6,"y":3.3},{"x":9.33,"y":3.18},{"x":9.9,"y":3.05},{"x":10.66,"y":3.48},{"x":11.0,"y":3.55},{"x":11.23,"y":3.74}]
},
"resolve":{"scale":{"color":"independent"},"legend":{"color":"independent"}},
"spacing":0.5,
"vconcat":[
{"hconcat":[
 {"title":{"text":"A.","font":"Liberation Sans","fontSize":24,"color":"#000000","fontWeight":"normal","anchor":"start","frame":"group","dx":-48,"dy":13,"offset":0},
  "resolve":{"scale":{"color":"independent"},"legend":{"color":"independent"}},
  "vconcat":[{
  "width":494,"height":260,
  "title":{"text":"SAXS Profile for PKDCBD1CBD2 at pCa 3 and pCa 6","anchor":"middle","frame":"group","dx":4,"dy":3,"offset":0},
  "layer":[
   {"data":{"values":[{}]},"mark":{"type":"rule","color":"#d9d9d9","strokeWidth":1},"encoding":{"x":{"datum":0,"type":"quantitative","scale":{"domain":[0,0.6],"nice":false,"zero":false}},"y":{"datum":-2,"type":"quantitative","scale":{"domain":[-2,1.2717],"nice":false,"zero":false}},"y2":{"datum":1}}},
   {"data":{"name":"a3"},"mark":{"type":"circle","size":36,"opacity":1},"encoding":{
     "x":{"field":"x","type":"quantitative","scale":{"domain":[0,0.6],"nice":false,"zero":false},"axis":{"values":[0,0.1,0.2,0.3,0.4,0.5,0.6],"labelExpr":"replace(upper(format(datum.value,'.2e')),regexp('E([+-])([0-9])$'),'E$10$2')","offset":-158.9,"title":"S (Å⁻)","titleY":171,"titleBaseline":"middle"}},
     "y":{"field":"y","type":"quantitative","scale":{"domain":[-2,1.2717],"nice":false,"zero":false},"axis":{"values":[-2,-1.5,-1,-0.5,0,0.5,1],"labelExpr":"''+datum.value","domain":false,"labelPadding":11,"title":"Log (I)","titlePadding":3,"titleY":140}},
     "color":{"datum":"PKDCBD1CBD2 pCa 3","type":"nominal","scale":{"domain":["PKDCBD1CBD2 pCa 3","PKDCBD1CBD2 pCa 6"],"range":["#000000","#ff0000"]},"legend":{"title":null,"orient":"none","legendX":362,"legendY":47,"values":["PKDCBD1CBD2 pCa 3"],"labelExpr":"['PKDCBD1CBD2 pCa','3']","labelBaseline":"alphabetic","labelOffset":2,"symbolSize":36,"symbolType":"circle"}}}},
   {"data":{"name":"a6"},"mark":{"type":"circle","size":36,"opacity":1},"encoding":{
     "x":{"field":"x","type":"quantitative","scale":{"domain":[0,0.6],"nice":false,"zero":false}},
     "y":{"field":"y","type":"quantitative","scale":{"domain":[-2,1.2717],"nice":false,"zero":false}},
     "color":{"datum":"PKDCBD1CBD2 pCa 6","type":"nominal"}}}
  ]}]},
 {
  "width":492,"height":260,
  "title":{"text":"Guinier Plot for PKDCBD1CBD2 at pCa 3 and pCa 6","anchor":"middle","frame":"group","dx":-19,"dy":13,"offset":0},
  "resolve":{"axis":{"x":"independent"}},
  "layer":[
   {"encoding":{
    "x":{"field":"x","type":"quantitative","scale":{"domain":[0,0.0018],"nice":false,"zero":false},"axis":{"values":[0,0.0002,0.0004,0.0006,0.0008,0.001,0.0012,0.0014,0.0016,0.0018],"labelExpr":"''+datum.value","title":"S² (Å⁻²)","titlePadding":5}},
    "y":{"field":"y","type":"quantitative","scale":{"domain":[0,1.6],"nice":false,"zero":false},"axis":{"values":[0,0.2,0.4,0.6,0.8,1,1.2,1.4,1.6],"labelExpr":"''+datum.value","labelPadding":12,"title":"Ln (I)","titlePadding":1}}},
    "layer":[
     {"data":{"name":"b3"},"mark":{"type":"circle","size":42,"color":"#000000","opacity":1}},
     {"data":{"name":"b3"},"transform":[{"regression":"y","on":"x"}],"mark":{"type":"line","color":"#000000","strokeWidth":2.5,"strokeDash":[2,4],"strokeCap":"round"}},
     {"data":{"name":"b6"},"mark":{"type":"circle","size":42,"color":"#ff0000","opacity":1}},
     {"data":{"name":"b6"},"transform":[{"regression":"y","on":"x"}],"mark":{"type":"line","color":"#ff0000","strokeWidth":2.5,"strokeDash":[2,4],"strokeCap":"round"}}
    ]},
   {"data":{"values":[{}]},"mark":{"type":"point","opacity":0},"encoding":{"x":{"datum":0,"type":"quantitative","scale":{"domain":[0,0.0018],"nice":false,"zero":false},"axis":{"orient":"top","title":"B.","labels":false,"domain":false,"ticks":false,"grid":false,"titleFont":"Liberation Sans","titleFontSize":24,"titleFontWeight":"normal","titleColor":"#000000","titleAlign":"left","titleAnchor":"start","titleBaseline":"alphabetic","titleAngle":0,"titleX":-48.7,"titleY":-9.3}}}}
  ]}
],"spacing":71,"resolve":{"scale":{"color":"independent"},"legend":{"color":"independent"}}},
{"hconcat":[
 {"title":{"text":"C.","font":"Liberation Sans","fontSize":24,"color":"#000000","fontWeight":"normal","anchor":"start","frame":"group","dx":-48,"dy":13.5,"offset":0},
  "resolve":{"scale":{"color":"independent"},"legend":{"color":"independent"}},
  "vconcat":[{
  "width":532,"height":217,
  "title":{"text":["Normalized pair distribution plot for PKDCBD1CBD2 at pCa 3 and","pCa 6"],"fontSize":18.3,"lineHeight":22,"anchor":"middle","frame":"group","dx":-11,"dy":-7,"offset":0},
  "layer":[
   {"data":{"values":[{}]},"mark":{"type":"rule","color":"#d9d9d9","strokeWidth":1},"encoding":{"x":{"datum":0,"type":"quantitative","scale":{"domain":[-8.87,140],"nice":false,"zero":false}},"x2":{"datum":140},"y":{"datum":0,"type":"quantitative","scale":{"domain":[0,1.2],"nice":false,"zero":false}}}},
   {"data":{"name":"c3"},"mark":{"type":"line","strokeWidth":5,"interpolate":"monotone","strokeCap":"round"},"encoding":{
     "x":{"field":"x","type":"quantitative","scale":{"domain":[-8.87,140],"nice":false,"zero":false},"axis":{"values":[0,20,40,60,80,100,120,140],"labelExpr":"replace(upper(format(datum.value,'.2e')),regexp('E([+-])([0-9])$'),'E$10$2')","domain":false,"title":"R (Å)","titleFontWeight":"normal","titleFontSize":15,"titleX":282,"titlePadding":8}},
     "y":{"field":"y","type":"quantitative","scale":{"domain":[0,1.2],"nice":false,"zero":false},"axis":{"values":[0,0.2,0.4,0.6,0.8,1,1.2],"labelExpr":"replace(upper(format(datum.value,'.2e')),regexp('E([+-])([0-9])$'),'E$10$2')","offset":-31.7,"labelPadding":11,"title":"P (R)","titleFontWeight":"normal","titleFontSize":15,"titlePadding":-3}},
     "color":{"datum":"PKDCBD1CBD2 pCa 3","type":"nominal","scale":{"domain":["PKDCBD1CBD2 pCa 3","PKDCBD1CBD2 pCa 6"],"range":["#000000","#ff0000"]},"legend":{"title":null,"orient":"none","legendX":428,"legendY":115.5,"symbolType":"M-7.25,0H7.25","symbolStrokeWidth":5,"symbolSize":16,"labelOffset":10.7,"rowPadding":-1}}}},
   {"data":{"name":"c6"},"mark":{"type":"line","strokeWidth":5,"interpolate":"monotone","strokeCap":"round"},"encoding":{
     "x":{"field":"x","type":"quantitative","scale":{"domain":[-8.87,140],"nice":false,"zero":false}},
     "y":{"field":"y","type":"quantitative","scale":{"domain":[0,1.2],"nice":false,"zero":false}},
     "color":{"datum":"PKDCBD1CBD2 pCa 6","type":"nominal"}}}
  ]}]},
 {
  "width":464,"height":230.5,
  "title":{"text":["Dimensionless Kratky Plot for PKDCBD1CBD2 at pCa","3 and pCa 6"],"fontSize":21,"lineHeight":24,"anchor":"middle","frame":"group","dx":-22,"dy":47,"offset":0},
  "resolve":{"axis":{"x":"independent"}},
  "layer":[
   {"layer":[
    {"data":{"name":"d3"},"mark":{"type":"circle","size":34,"opacity":1},"encoding":{
     "x":{"field":"x","type":"quantitative","scale":{"domain":[0,16],"nice":false,"zero":false},"axis":{"values":[0,2,4,6,8,10,12,14,16],"labelExpr":"replace(upper(format(datum.value,'.2e')),regexp('E([+-])([0-9])$'),'E$10$2')","title":"s * RG","titlePadding":6}},
     "y":{"field":"y","type":"quantitative","scale":{"domain":[0,6],"nice":false,"zero":false},"axis":{"values":[0,1,2,3,4,5,6],"labelExpr":"replace(upper(format(datum.value,'.2e')),regexp('E([+-])([0-9])$'),'E$10$2')","labelPadding":12,"title":"I (s)/I (0) * (s*RG)²","titlePadding":-4}},
     "color":{"datum":"PKDCBD1CBD2 pCa 3","type":"nominal","scale":{"domain":["PKDCBD1CBD2 pCa 3","PKDCBD1CBD2 pCa 6"],"range":["#000000","#ff0000"]},"legend":{"title":null,"orient":"none","legendX":321,"legendY":-18.1,"labelOffset":3,"symbolSize":36,"symbolType":"circle","rowPadding":6.8}}}},
    {"data":{"name":"d6"},"mark":{"type":"circle","size":34,"opacity":1},"encoding":{
     "x":{"field":"x","type":"quantitative","scale":{"domain":[0,16],"nice":false,"zero":false}},
     "y":{"field":"y","type":"quantitative","scale":{"domain":[0,6],"nice":false,"zero":false}},
     "color":{"datum":"PKDCBD1CBD2 pCa 6","type":"nominal"}}}
   ]},
   {"data":{"values":[{}]},"mark":{"type":"point","opacity":0},"encoding":{"x":{"datum":0,"type":"quantitative","scale":{"domain":[0,16],"nice":false,"zero":false},"axis":{"orient":"top","title":"D.","labels":false,"domain":false,"ticks":false,"grid":false,"titleFont":"Liberation Sans","titleFontSize":24,"titleFontWeight":"normal","titleColor":"#000000","titleAlign":"left","titleAnchor":"start","titleBaseline":"alphabetic","titleAngle":0,"titleX":-86,"titleY":-42.5}}}}
  ]}
],"spacing":5,"resolve":{"scale":{"color":"independent"},"legend":{"color":"independent"}}}
]
}
